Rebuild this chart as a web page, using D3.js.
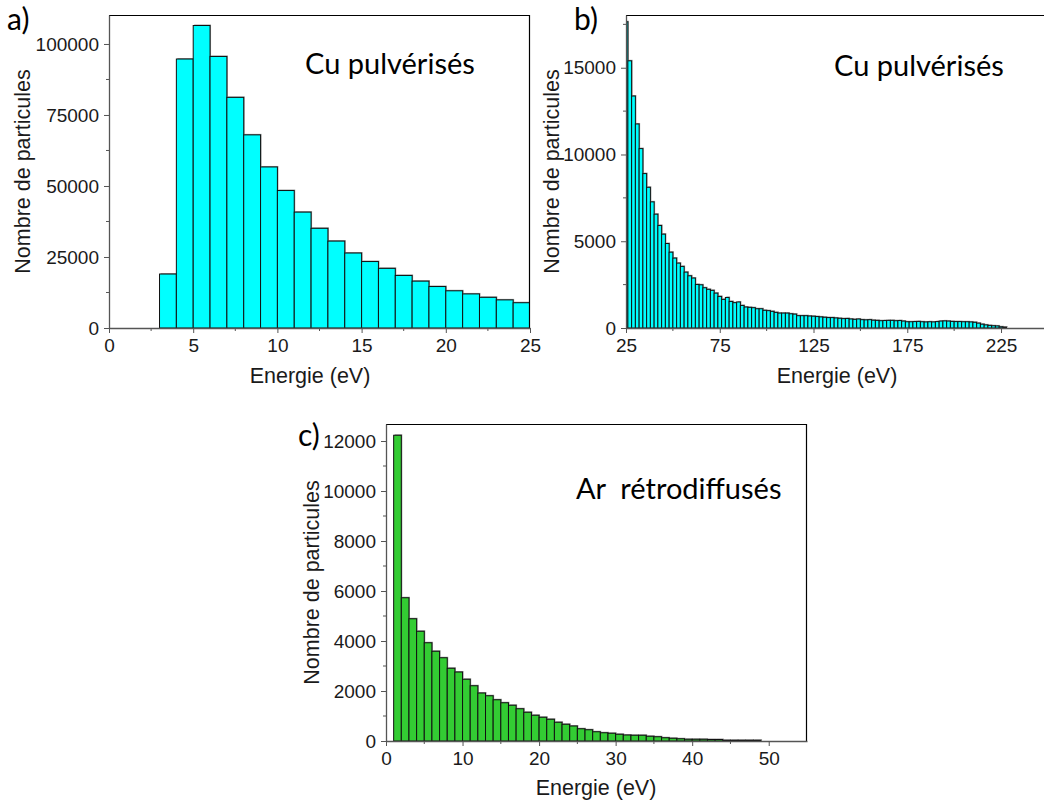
<!DOCTYPE html>
<html><head><meta charset="utf-8">
<script src="https://cdn.jsdelivr.net/npm/d3@7"></script>
<style>
html,body{margin:0;padding:0;background:#fff;}
svg{display:block;}
</style>
</head><body>
<svg id="chart" width="1044" height="800"></svg>
<script>
// ---------- DATA ----------
// Panel a) Cu pulvérisés, bins of 1 eV
const aBinStart = [3,4,5,6,7,8,9,10,11,12,13,14,15,16,17,18,19,20,21,22,23,24];
const aCounts = [19000,94700,106500,95600,81200,68000,56700,48400,40800,35100,30600,26400,23400,21000,18500,16500,14600,13100,12000,10800,9900,8900];
const aXTicks = [0,5,10,15,20,25];
const aYTicks = [0,25000,50000,75000,100000];

// Panel b) Cu pulvérisés, bins of 2 eV
const bBinStart = [24,26,28,30,32,34,36,38,40,42,44,46,48,50,52,54,56,58,60,62,64,66,68,70,72,74,76,78,80,82,84,86,88,90,92,94,96,98,100,102,104,106,108,110,112,114,116,118,120,122,124,126,128,130,132,134,136,138,140,142,144,146,148,150,152,154,156,158,160,162,164,166,168,170,172,174,176,178,180,182,184,186,188,190,192,194,196,198,200,202,204,206,208,210,212,214,216,218,220,222,224,226];
const bCounts = [17650,15400,13370,11760,10340,8900,8110,7270,6560,5910,5410,4870,4370,4030,3740,3550,3220,3010,2880,2510,2490,2320,2230,2170,2010,1820,1650,1760,1530,1460,1500,1300,1210,1190,1170,1110,1110,1020,1000,960,900,860,860,860,820,800,710,710,710,690,
680,660,640,620,600,600,580,560,540,550,520,500,520,480,470,480,450,440,420,430,440,440,420,430,400,360,360,370,380,360,350,360,350,370,400,410,400,380,370,370,360,360,350,330,280,220,180,150,130,120,70,50];
const bXTicks = [25,75,125,175,225];
const bYTicks = [0,5000,10000,15000];

// Panel c) Ar rétrodiffusés, bins of 1 eV
const cBinStart = [1,2,3,4,5,6,7,8,9,10,11,12,13,14,15,16,17,18,19,20,21,22,23,24,25,26,27,28,29,30,31,32,33,34,35,36,37,38,39,40,41,42,43,44,45,46,47,48];
const cCounts = [12230,5730,4890,4390,3930,3590,3330,2910,2760,2470,2210,1920,1810,1650,1530,1430,1290,1150,1030,950,870,750,670,600,490,450,370,330,310,270,240,230,230,190,170,130,110,90,70,70,70,60,60,30,30,30,30,30];
const cXTicks = [0,10,20,30,40,50];
const cYTicks = [0,2000,4000,6000,8000,10000,12000];

const xTitle = "Energie (eV)";
const yTitle = "Nombre de particules";

// ---------- DRAW ----------
const svg = d3.select("#chart");
const defs = svg.append("defs");
const SANS = "'Liberation Sans', Arial, sans-serif";
const HUM = "Lato, 'Open Sans', sans-serif";

function midpoints(ticks){
  const m=[]; for(let i=0;i<ticks.length-1;i++) m.push((ticks[i]+ticks[i+1])/2); return m;
}

function drawPanel(o){
  const g = svg.append("g");
  const x = d3.scaleLinear().domain(o.xDomain).range([o.left,o.right]);
  const y = d3.scaleLinear().domain(o.yDomain).range([o.bottom,o.top]);
  const id = "clip"+o.id;
  defs.append("clipPath").attr("id",id).append("rect")
    .attr("x",o.left).attr("y",o.top-5).attr("width",o.right-o.left).attr("height",o.bottom-o.top+5);

  const data = o.starts.map((s,i)=>({s, e:s+o.binWidth, v:o.counts[i]}));
  const bars = g.append("g").attr("clip-path",`url(#${id})`);
  // shadow
  bars.selectAll("rect.sh").data(data).join("rect").attr("class","sh")
    .attr("x",d=>x(d.s)+1).attr("y",d=>y(d.v)-1)
    .attr("width",d=>x(d.e)-x(d.s)).attr("height",d=>y(0)-y(d.v))
    .attr("fill","#9a9a9a");
  bars.selectAll("rect.b").data(data).join("rect").attr("class","b")
    .attr("x",d=>x(d.s)).attr("y",d=>y(d.v))
    .attr("width",d=>x(d.e)-x(d.s)).attr("height",d=>y(0)-y(d.v))
    .attr("fill",o.fill).attr("stroke","#111").attr("stroke-width",1);

  // frame top / right
  g.append("line").attr("x1",o.left).attr("x2",o.right).attr("y1",o.top+0.5).attr("y2",o.top+0.5)
    .attr("stroke","#000").attr("stroke-width",1.2);
  if(o.rightLine) g.append("line").attr("x1",o.right-0.5).attr("x2",o.right-0.5).attr("y1",o.top).attr("y2",o.bottom)
    .attr("stroke","#000").attr("stroke-width",1.2);

  // axes
  const xa = g.append("g").attr("transform",`translate(0,${o.bottom})`)
    .call(d3.axisBottom(x).tickValues(o.xTicks).tickSize(5).tickSizeOuter(0).tickPadding(6).tickFormat(d3.format("d")));
  xa.append("g").selectAll("line").data(o.xMinor).join("line")
    .attr("x1",d=>x(d)).attr("x2",d=>x(d)).attr("y1",0).attr("y2",3).attr("stroke","#555");
  const ya = g.append("g").attr("transform",`translate(${o.left},0)`)
    .call(d3.axisLeft(y).tickValues(o.yTicks).tickSize(5).tickSizeOuter(0).tickPadding(5).tickFormat(d3.format("d")));
  ya.append("g").selectAll("line").data(o.yMinor).join("line")
    .attr("y1",d=>y(d)).attr("y2",d=>y(d)).attr("x1",0).attr("x2",-3).attr("stroke","#555");
  [xa,ya].forEach(a=>{
    a.select(".domain").attr("stroke","#555").attr("stroke-width",1.3);
    a.selectAll(".tick line").attr("stroke","#555");
    a.selectAll("text").attr("font-family",SANS)
      .attr("font-size",19).attr("fill","#1a1a1a");
  });

  // axis titles
  g.append("text").attr("x",o.xTitleX).attr("y",o.xTitleY).attr("text-anchor","middle")
    .attr("font-family",SANS).attr("font-size",21.5).attr("fill","#1a1a1a")
    .text(xTitle);
  g.append("text").attr("transform",`translate(${o.yTitleX},${(o.top+o.bottom)/2}) rotate(-90)`)
    .attr("text-anchor","middle")
    .attr("font-family",SANS).attr("font-size",21.5).attr("fill","#1a1a1a")
    .text(yTitle);

  // panel letter + annotation
  g.append("text").attr("x",o.letterX).attr("y",o.letterY)
    .attr("font-family",HUM).attr("font-size",30).attr("fill","#000")
    .text(o.letter);
  g.append("text").attr("x",o.noteX).attr("y",o.noteY)
    .attr("font-family",HUM).attr("font-size",29).attr("fill","#000")
    .attr("xml:space","preserve").style("white-space","pre")
    .text(o.note);
}

drawPanel({id:"a", left:109, right:530, top:15, bottom:328,
  xDomain:[0,25], yDomain:[0,110200],
  xTicks:aXTicks, xMinor:midpoints(aXTicks), yTicks:aYTicks, yMinor:midpoints(aYTicks),
  starts:aBinStart, binWidth:1, counts:aCounts, fill:"#00ffff", rightLine:true,
  xTitleX:310, xTitleY:383, yTitleX:30,
  letter:"a)", letterX:7, letterY:30, note:"Cu pulvérisés", noteX:305, noteY:74});

drawPanel({id:"b", left:626, right:1047.9, top:15, bottom:328,
  xDomain:[25,250], yDomain:[0,18040],
  xTicks:bXTicks, xMinor:midpoints(bXTicks), yTicks:bYTicks, yMinor:midpoints(bYTicks).concat([17500]),
  starts:bBinStart, binWidth:2, counts:bCounts, fill:"#00ffff", rightLine:false,
  xTitleX:837, xTitleY:383, yTitleX:559,
  letter:"b)", letterX:574, letterY:30, note:"Cu pulvérisés", noteX:834, noteY:76});

drawPanel({id:"c", left:386, right:807, top:424, bottom:741,
  xDomain:[0,55], yDomain:[0,12680],
  xTicks:cXTicks, xMinor:midpoints(cXTicks), yTicks:cYTicks, yMinor:midpoints(cYTicks),
  starts:cBinStart, binWidth:1, counts:cCounts, fill:"#33cc33", rightLine:true,
  xTitleX:596, xTitleY:795, yTitleX:319,
  letter:"c)", letterX:298, letterY:446, note:"Ar  rétrodiffusés", noteX:576, noteY:499});
</script>
</body></html>
